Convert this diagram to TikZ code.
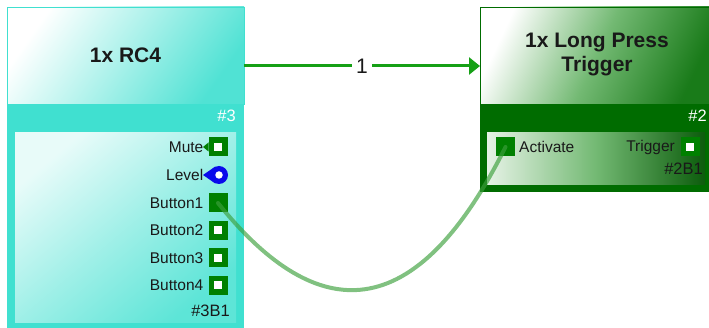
\documentclass[tikz,border=0pt]{standalone}
\usepackage{fontspec}
\setmainfont{Liberation Sans}
\usetikzlibrary{arrows.meta}
\definecolor{turq}{RGB}{64,224,208}
\definecolor{turqlt}{RGB}{80,226,212}
\definecolor{dgreen}{RGB}{0,108,0}
\definecolor{pgreen}{RGB}{0,128,0}
\definecolor{bgreen}{RGB}{12,92,12}
\definecolor{agreen}{RGB}{22,160,22}
\definecolor{wgreen}{RGB}{60,160,60}
\definecolor{lblue}{RGB}{10,10,235}
\definecolor{txt}{RGB}{25,25,25}
\begin{document}
\begin{tikzpicture}[x=1pt,y=-1pt,
  box/.style={rectangle,inner sep=0pt,outer sep=0pt},
  title/.style={font=\fontsize{21}{24}\selectfont\bfseries,text=txt,align=center},
  plabel/.style={font=\fontsize{15.5}{18}\selectfont,text=txt,inner sep=0pt},
  tag/.style={font=\fontsize{16.5}{19}\selectfont,inner sep=0pt},
  portsq/.style={box,fill=pgreen,minimum size=19pt},
  portin/.style={box,fill=white,minimum size=8pt},
  arrowline/.style={draw=agreen,line width=3pt,-{Triangle[length=11pt,width=17pt]}},
  wire/.style={draw=wgreen,line width=4pt,draw opacity=0.65,line cap=round}
]
\useasboundingbox (0,0) rectangle (709,328);

% ---------- left block ----------
\node[box,fill=turq,minimum width=237pt,minimum height=321pt] (lframe) at (125.5,167.5) {};
\node[box,draw=turq,line width=0.8pt,top color=white,bottom color=turqlt,middle color=turq!45!white,shading angle=55,
      minimum width=237pt,minimum height=97pt] (lhead) at (125.5,55.5) {};
\node[title] (ltitle) at (lhead.center) {1x RC4};
\node[tag,text=white,anchor=east] (lnum) at (236,115.5) {\#3};
\node[box,top color=turq!12!white,bottom color=turq!85!white,middle color=turq!50!white,shading angle=40,
      minimum width=221pt,minimum height=190pt] (lbody) at (125.5,228) {};

% ports
\node[portsq] (mute) at (218,147) {};
\node[portin] (mutei) at (mute.center) {};
\fill[pgreen] (mute.west) ++(0,-4.5) -- ++(-5.5,4.5) -- ++(5.5,4.5) -- cycle;
\node[plabel,anchor=east] (mutel) at (203.5,147) {Mute};

\node[circle,fill=lblue,inner sep=0pt,minimum size=18pt] (lev) at (219,175) {};
\fill[lblue] (lev.center) ++(-16,0) -- (lev.115) -- (lev.245) -- cycle;
\node[circle,fill=white,inner sep=0pt,minimum size=7.5pt] (levi) at (lev.center) {};
\node[plabel,anchor=east] (levl) at (203.5,175) {Level};

\node[portsq] (b1) at (218,203) {};
\node[plabel,anchor=east] (b1l) at (203.5,203) {Button1};

\node[portsq] (b2) at (218,230.5) {};
\node[portin] (b2i) at (b2.center) {};
\node[plabel,anchor=east] (b2l) at (203.5,230.5) {Button2};

\node[portsq] (b3) at (218,258) {};
\node[portin] (b3i) at (b3.center) {};
\node[plabel,anchor=east] (b3l) at (203.5,258) {Button3};

\node[portsq] (b4) at (218,285.5) {};
\node[portin] (b4i) at (b4.center) {};
\node[plabel,anchor=east] (b4l) at (203.5,285.5) {Button4};

\node[tag,text=txt,anchor=east] (lid) at (230,311) {\#3B1};

% ---------- right block ----------
\node[box,fill=dgreen,minimum width=234pt,minimum height=185pt] (rframe) at (597,99.5) {};
\node[box,draw=dgreen,line width=0.8pt,top color=white,bottom color=dgreen!90!white,middle color=pgreen!55!white,shading angle=65,
      minimum width=234pt,minimum height=97pt] (rhead) at (597,55.5) {};
\node[title] (rtitle) at (597,55) {1x Long Press\\Trigger};
\node[tag,text=white,anchor=east] (rnum) at (707,115.5) {\#2};
\node[box,left color=white!90!pgreen,right color=bgreen,middle color=pgreen!55!white,
      minimum width=218pt,minimum height=52pt] (rbody) at (596,159) {};

\node[portsq] (act) at (505.5,147) {};
\node[plabel,anchor=west] (actl) at (519,147) {Activate};
\node[portsq] (trig) at (690,147) {};
\node[portin] (trigi) at (trig.center) {};
\node[plabel,anchor=east] (trigl) at (675,147) {Trigger};
\node[tag,text=txt,anchor=east] (rid) at (703,168.5) {\#2B1};

% ---------- connectors ----------
\draw[arrowline] ([yshift=-10.5pt]lhead.east) -- ([yshift=-10.5pt]rhead.west)
  node[midway,fill=white,inner sep=4pt,font=\fontsize{21}{24}\selectfont,text=txt] (one) {1};

\draw[wire] (b1.center) .. controls (310,318) and (410,338) .. (act.center);
\end{tikzpicture}
\end{document}
